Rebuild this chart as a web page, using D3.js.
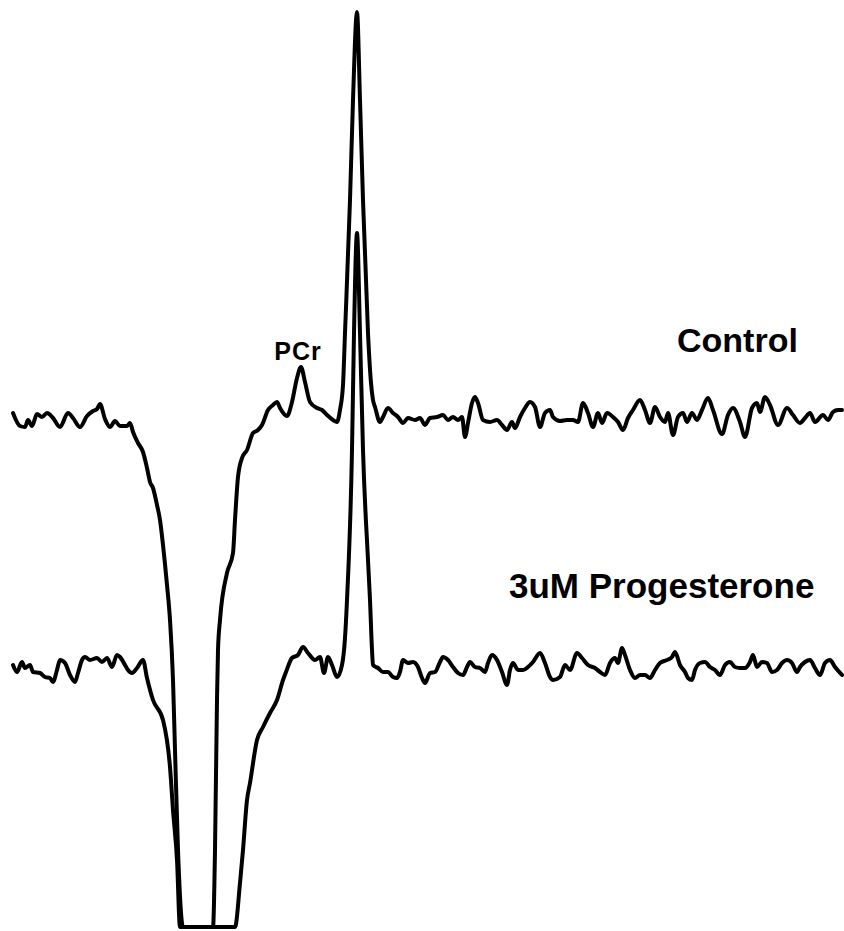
<!DOCTYPE html>
<html>
<head>
<meta charset="utf-8">
<script src="https://cdn.jsdelivr.net/npm/d3@7/dist/d3.min.js"></script>
<style>
  html, body { margin: 0; padding: 0; background: #fff; }
  svg { display: block; }
  text { font-family: "Liberation Sans", Arial, sans-serif; font-weight: bold; fill: #000; }
</style>
</head>
<body>
<svg id="chart" width="844" height="931"></svg>
<script>
// ---- data (arbitrary frequency units, intensity relative to each trace's baseline) ----
const controlX = [13,20,25,28,32,37,42,47,53,60,68,73,80,87,93,97,100,105,110,115,120,127,130,133,138,143,147,150,153,157,160,163,167,170,173,175,178,183,198,213,215,217,218,220,227,233,235,238,242,247,253,258,262,268,273,277,280,287,292,297,301,305,310,317,322,327,333,337,340,343,345,350,353,357,360,363,368,371,373,375,380,383,388,393,398,403,408,415,420,425,430,437,443,448,453,458,462,465,468,472,475,478,483,490,497,502,507,512,515,520,525,530,535,540,545,550,553,560,567,573,578,583,588,593,598,602,607,613,618,623,628,633,640,645,650,655,660,665,668,673,678,683,687,692,697,702,708,713,722,728,733,740,745,752,757,760,765,770,778,787,793,800,805,810,815,823,828,833,838,842];
const controlY = [4,-9,-10,-3,-9,3,0,4,-1,-10,4,-1,-10,1,6,8,13,-2,-10,-4,-9,-9,-6,-15,-26,-35,-51,-65,-71,-88,-103,-128,-168,-203,-263,-333,-433,-515,-560,-515,-433,-283,-233,-203,-156,-136,-103,-60,-41,-33,-16,-13,-8,7,12,15,9,1,15,39,50,35,15,9,7,2,-3,-5,7,32,84,217,317,405,317,217,84,34,17,10,-5,0,9,4,0,-6,-1,-3,-1,-8,-1,0,2,-3,0,-3,0,-20,-6,14,20,14,-3,-5,-3,-8,-13,-5,-11,0,9,15,10,-10,4,7,0,-4,-3,-3,-5,14,4,-10,4,-6,4,0,-5,-13,-1,7,17,7,-6,10,0,-5,4,-18,0,4,-5,4,-3,7,19,7,-17,2,9,-5,-20,9,14,5,20,12,-8,9,2,-6,-1,4,-5,2,-3,5,7,7];

const progX = [13,17,22,25,30,33,40,45,50,53,57,60,65,70,75,78,82,85,90,97,102,107,112,117,120,125,128,132,137,143,147,153,163,170,173,177,180,208,235,240,243,247,250,257,263,270,277,283,286,292,298,303,308,315,320,324,328,332,337,342,345,347,352,354,357,360,363,368,370,372,373,378,383,388,393,397,400,403,408,413,418,422,425,430,435,440,443,448,453,458,463,467,470,475,480,485,488,492,497,502,507,510,513,518,523,528,533,540,545,550,553,560,565,570,577,582,588,595,600,605,610,615,618,622,625,630,635,640,645,650,655,660,667,672,675,680,685,688,692,695,700,705,710,715,720,725,730,735,740,745,750,753,757,762,767,772,777,782,787,792,797,800,805,810,815,820,825,830,835,842];
const progY = [0,-7,3,-3,0,-7,-8,-12,-13,-17,-5,5,2,-10,-17,-8,5,8,5,7,3,7,-2,10,8,0,-5,-8,-3,5,-13,-35,-55,-102,-145,-195,-267,-320,-267,-218,-185,-135,-118,-75,-62,-48,-35,-15,-7,7,10,18,12,5,8,-8,8,0,-12,0,27,65,215,332,432,332,215,105,65,15,0,-3,-7,-7,-12,-13,-7,5,2,3,-2,-13,-18,-8,-7,3,8,5,-2,-8,-10,-2,3,-2,-3,-7,2,10,5,-7,-20,-5,2,-5,-5,-2,3,12,2,-12,-15,-12,0,-5,12,7,0,-3,-7,-10,2,7,2,17,10,-5,-13,-10,-10,-13,-5,2,5,8,13,0,-7,-13,-15,-5,2,3,-2,-5,-10,0,3,-2,-3,-3,3,10,-2,3,2,-7,-5,2,5,2,-7,-2,3,5,-3,-10,2,5,-2,-10];

const seriesNames = ["Control", "3uM Progesterone"];
const seriesOffsets = [0, -248];
const peakLabel = "PCr";

// ---- layout ----
const width = 844, height = 931;
const svg = d3.select("#chart");

const x = d3.scaleLinear().domain([0, 844]).range([0, width]);
const y = d3.scaleLinear().domain([-510, 417]).range([927, 0]).clamp(true);

const traces = [
  { name: seriesNames[0], xs: controlX, ys: controlY, off: seriesOffsets[0] },
  { name: seriesNames[1], xs: progX, ys: progY, off: seriesOffsets[1] }
];

const line = d3.line()
  .x(d => x(d[0]))
  .y(d => y(d[1]))
  .curve(d3.curveMonotoneX);

traces.forEach(t => {
  const pts = t.xs.map((xv, i) => [xv, t.ys[i] + t.off]);
  svg.append("path")
    .datum(pts)
    .attr("d", line)
    .attr("fill", "none")
    .attr("stroke", "#000")
    .attr("stroke-width", 4)
    .attr("stroke-linejoin", "round")
    .attr("stroke-linecap", "round");
});

// labels
svg.append("text")
  .attr("x", x(298)).attr("y", y(57))
  .attr("text-anchor", "middle")
  .attr("font-size", 25)
  .attr("letter-spacing", 1)
  .text(peakLabel);

svg.append("text")
  .attr("x", x(677)).attr("y", y(65))
  .attr("font-size", 34)
  .text(seriesNames[0]);

svg.append("text")
  .attr("x", x(509)).attr("y", y(-181))
  .attr("font-size", 35)
  .text(seriesNames[1]);
</script>
</body>
</html>
